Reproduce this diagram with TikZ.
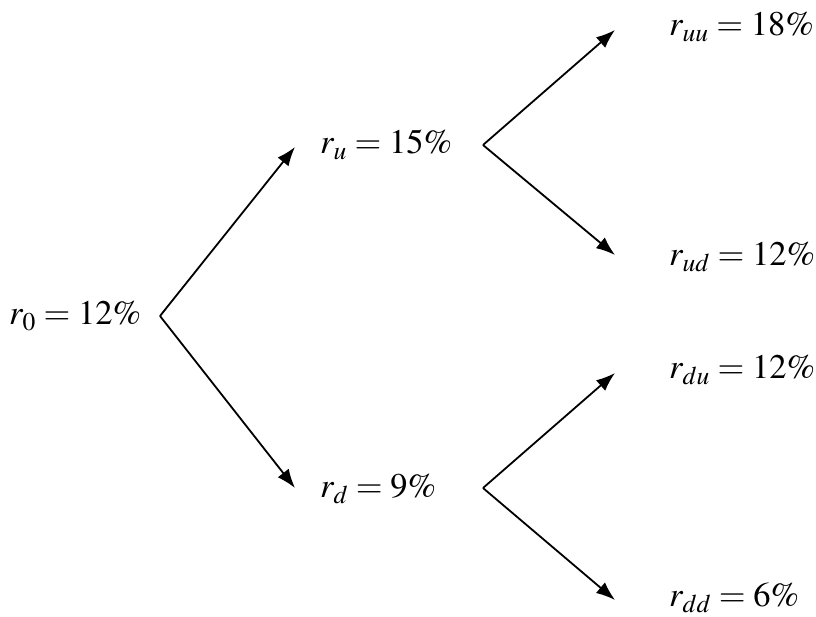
\documentclass[tikz,border=0pt]{standalone}
\usepackage[T1]{fontenc}
\usepackage{mathptmx}
\usetikzlibrary{arrows.meta}
\begin{document}
\begin{tikzpicture}[x=1pt,y=-1pt,
  lab/.style={anchor=west,inner sep=0pt,font=\fontsize{34.5}{40}\selectfont},
  arr/.style={line width=1.8pt,-{Latex[length=19pt,width=14pt]}}]
\useasboundingbox (0,0) rectangle (816,616);
\node[lab] (r0) at (9,316) {$r_0={}$12\%};
\node[lab] (ru) at (320,145) {$r_u={}$15\%};
\node[lab] (rd) at (320,489) {$r_d={}$9\%};
\node[lab] (ruu) at (669,27) {$r_{uu}={}$18\%};
\node[lab] (rud) at (669,257) {$r_{ud}={}$12\%};
\node[lab] (rdu) at (669,370) {$r_{du}={}$12\%};
\node[lab] (rdd) at (669,598) {$r_{dd}={}$6\%};
\coordinate (f0) at (160,316);
\coordinate (fu) at (483,145);
\coordinate (fd) at (483,488);
\draw[arr] (f0) -- (295,147);
\draw[arr] (f0) -- (295,488);
\draw[arr] (fu) -- (615,30);
\draw[arr] (fu) -- (615,255);
\draw[arr] (fd) -- (615,373);
\draw[arr] (fd) -- (615,600);
\end{tikzpicture}
\end{document}
